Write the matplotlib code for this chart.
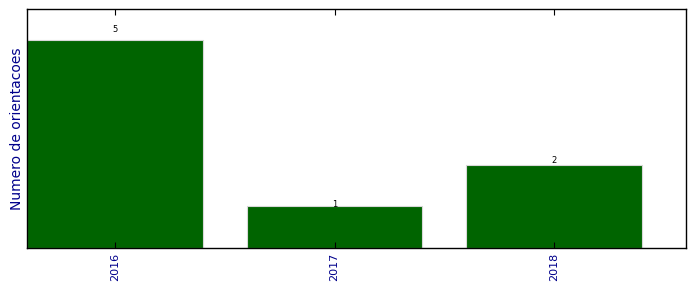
import matplotlib
matplotlib.use("Agg")
import matplotlib.pyplot as plt

years = ["2016", "2017", "2018"]
counts = [5, 1, 2]

fig = plt.figure(figsize=(6.96, 2.92), dpi=100)
ax = fig.add_axes([27/696, 1-248/292, (686-27)/696, (248-9)/292])
x = list(range(len(years)))
bars = ax.bar(x, counts, width=0.8, color="#006400", edgecolor="#d8d8d8", linewidth=0.8)
for xi, v in zip(x, counts):
    ax.text(xi, v * 1.05, str(v), ha="center", va="center", fontsize=6, color="black")
ax.set_xlim(-0.4, 2.6)
ax.set_ylim(0, max(counts) * 1.15)
ax.set_xticks(x)
ax.set_xticklabels(years, rotation=90, color="darkblue", fontsize=8)
ax.set_yticks([])
ax.tick_params(axis="x", direction="in", top=True, bottom=True, length=4, width=0.8)
ax.set_ylabel("Numero de orientacoes", color="darkblue", fontsize=10, labelpad=2)
for s in ax.spines.values():
    s.set_linewidth(1.0)
fig.savefig("out.png", dpi=100)
